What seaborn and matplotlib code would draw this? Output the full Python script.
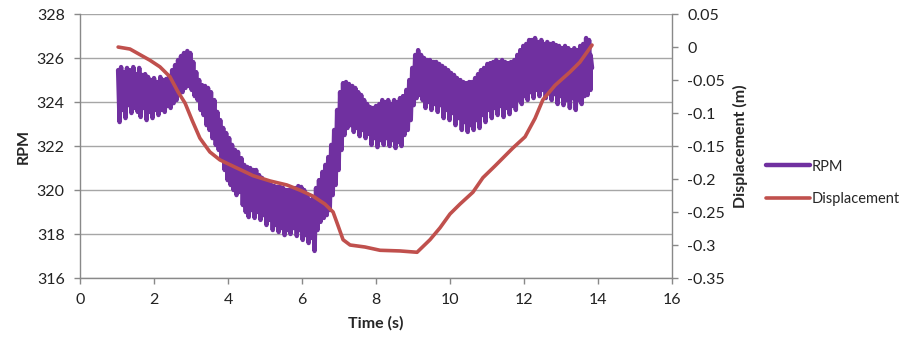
import numpy as np
import pandas as pd
import matplotlib
matplotlib.use("Agg")
import matplotlib.pyplot as plt
import seaborn as sns

# RPM trace: sample times with the upper and lower swing
rpm_time = [
    1.03, 1.11, 1.19, 1.27, 1.35, 1.44, 1.52, 1.60, 1.68, 1.76, 1.84, 1.92, 2.00, 2.08, 2.17, 2.25,
    2.33, 2.41, 2.49, 2.57, 2.65, 2.73, 2.81, 2.90, 2.98, 3.06, 3.14, 3.22, 3.30, 3.38, 3.46, 3.54,
    3.63, 3.71, 3.79, 3.87, 3.95, 4.03, 4.11, 4.19, 4.27, 4.36, 4.44, 4.52, 4.60, 4.68, 4.76, 4.84,
    4.92, 5.00, 5.09, 5.17, 5.25, 5.33, 5.41, 5.49, 5.57, 5.65, 5.73, 5.82, 5.90, 5.98, 6.06, 6.14,
    6.22, 6.30, 6.38, 6.46, 6.55, 6.63, 6.71, 6.79, 6.87, 6.95, 7.03, 7.11, 7.19, 7.27, 7.36, 7.44,
    7.52, 7.60, 7.68, 7.76, 7.84, 7.92, 8.00, 8.09, 8.17, 8.25, 8.33, 8.41, 8.49, 8.57, 8.65, 8.73,
    8.82, 8.90, 8.98, 9.06, 9.14, 9.22, 9.30, 9.38, 9.46, 9.55, 9.63, 9.71, 9.79, 9.87, 9.95, 10.03,
    10.11, 10.19, 10.28, 10.36, 10.44, 10.52, 10.60, 10.68, 10.76, 10.84, 10.92, 11.01, 11.09, 11.17,
    11.25, 11.33, 11.41, 11.49, 11.57, 11.65, 11.74, 11.82, 11.90, 11.98, 12.06, 12.14, 12.22, 12.30,
    12.38, 12.47, 12.55, 12.63, 12.71, 12.79, 12.87, 12.95, 13.03, 13.11, 13.20, 13.28, 13.36, 13.44,
    13.52, 13.60, 13.68, 13.76, 13.80,
]
rpm_high = [
    325.45, 325.59, 325.36, 325.55, 325.45, 325.59, 325.27, 325.55, 325.23, 325.27, 325.14, 325.00,
    325.09, 324.91, 325.14, 325.00, 325.05, 325.18, 325.45, 325.68, 325.91, 326.09, 326.23, 326.32,
    326.23, 325.82, 325.36, 325.00, 324.77, 324.73, 324.64, 324.45, 324.09, 323.55, 323.18, 322.82,
    322.59, 322.36, 322.05, 321.82, 321.73, 321.45, 321.14, 321.05, 321.00, 320.91, 320.91, 320.68,
    320.55, 320.36, 320.32, 320.23, 320.18, 320.14, 320.14, 320.09, 320.00, 320.00, 320.00, 320.09,
    320.18, 320.14, 320.00, 319.77, 319.55, 319.64, 320.09, 320.45, 320.82, 321.14, 321.50, 322.05,
    322.73, 323.64, 324.45, 324.86, 324.91, 324.82, 324.73, 324.64, 324.45, 324.32, 324.09, 323.91,
    323.77, 323.73, 323.82, 323.91, 324.09, 324.00, 324.09, 323.91, 324.09, 324.00, 324.18, 324.27,
    324.55, 325.00, 325.55, 326.14, 326.36, 326.14, 326.00, 325.91, 325.91, 325.82, 325.82, 325.73,
    325.64, 325.55, 325.45, 325.32, 325.23, 325.09, 325.00, 324.91, 324.86, 324.91, 324.91, 325.09,
    325.27, 325.45, 325.55, 325.73, 325.77, 325.82, 325.91, 325.82, 325.91, 325.82, 325.77, 325.82,
    325.91, 326.14, 326.36, 326.55, 326.64, 326.82, 326.82, 326.91, 326.73, 326.82, 326.64, 326.73,
    326.64, 326.68, 326.59, 326.55, 326.45, 326.55, 326.45, 326.36, 326.45, 326.36, 326.55, 326.64,
    326.91, 326.82, 326.14,
]
rpm_low = [
    323.09, 323.64, 323.27, 323.86, 323.50, 323.73, 323.55, 323.32, 323.73, 323.18, 323.55, 323.27,
    323.64, 323.41, 323.64, 323.55, 323.82, 323.73, 323.95, 324.09, 324.41, 324.45, 324.64, 324.73,
    324.55, 324.27, 324.09, 323.64, 323.41, 322.95, 322.73, 322.36, 322.05, 321.82, 321.45, 320.91,
    320.45, 320.23, 320.00, 319.77, 319.91, 319.32, 319.00, 318.77, 319.09, 318.73, 319.00, 318.64,
    318.86, 318.41, 318.64, 318.18, 318.41, 318.09, 318.27, 317.95, 318.18, 318.00, 318.27, 317.91,
    318.18, 317.73, 317.95, 317.59, 317.82, 317.23, 318.18, 318.55, 318.73, 318.86, 319.09, 319.77,
    320.23, 320.91, 321.82, 322.50, 322.82, 322.95, 322.64, 322.82, 322.45, 322.73, 322.36, 322.55,
    322.05, 322.36, 321.95, 322.27, 322.05, 322.36, 322.00, 322.27, 321.91, 322.18, 322.00, 322.50,
    322.73, 323.18, 323.86, 324.18, 324.32, 324.09, 323.73, 324.00, 323.64, 323.91, 323.55, 323.86,
    323.27, 323.64, 323.18, 323.50, 322.95, 323.27, 322.73, 323.09, 322.64, 322.95, 322.73, 323.18,
    322.82, 323.41, 323.09, 323.64, 323.27, 323.73, 323.41, 323.82, 323.32, 323.73, 323.45, 323.82,
    323.64, 324.09, 323.91, 324.27, 324.09, 324.45, 324.18, 324.55, 324.27, 324.55, 324.18, 324.45,
    324.09, 324.36, 323.91, 324.27, 323.86, 324.09, 323.73, 324.18, 323.64, 324.09, 323.91, 324.27,
    324.32, 324.55, 325.55,
]

disp_time = [
    1.03, 1.35, 1.89, 2.16, 2.43, 2.65, 2.84, 3.03, 3.24, 3.51, 3.78, 4.19, 4.68, 5.14, 5.59, 5.95,
    6.30, 6.62, 6.84, 6.97, 7.11, 7.30, 7.70, 8.11, 8.65, 9.11, 9.46, 9.73, 10.00, 10.27, 10.62,
    10.89, 11.22, 11.70, 12.03, 12.30, 12.51, 12.84, 13.24, 13.51, 13.84,
]
disp_value = [
    0.000, -0.003, -0.020, -0.030, -0.045, -0.068, -0.085, -0.111, -0.138, -0.159, -0.171, -0.182,
    -0.195, -0.203, -0.209, -0.217, -0.226, -0.238, -0.250, -0.270, -0.292, -0.300, -0.303, -0.308,
    -0.309, -0.311, -0.292, -0.274, -0.253, -0.238, -0.220, -0.198, -0.180, -0.153, -0.136, -0.108,
    -0.080, -0.058, -0.038, -0.023, 0.003,
]

# alternate upper and lower swings to rebuild the noisy trace
t_hi = np.array(rpm_time)
t_lo = t_hi + 0.04
rpm_df = pd.DataFrame({
    "t": np.column_stack([t_hi, t_lo]).ravel(),
    "rpm": np.column_stack([rpm_high, rpm_low]).ravel(),
})
disp_df = pd.DataFrame({"t": disp_time, "disp": disp_value})

sns.set_style("white")
plt.rcParams["font.family"] = ["Lato", "DejaVu Sans"]

purple = "#7030A0"
red = "#C0504D"
axis_gray = "#898989"

fig, ax = plt.subplots(figsize=(9.23, 3.43), dpi=100)
fig.subplots_adjust(left=0.0867, right=0.728, top=0.959, bottom=0.1895)

sns.lineplot(data=rpm_df, x="t", y="rpm", ax=ax, color=purple, linewidth=3.2,
             estimator=None, sort=False, label="RPM", legend=False)
ax.set_xlim(0, 16)
ax.set_ylim(316, 328)
ax.set_xticks(range(0, 17, 2))
ax.set_yticks(range(316, 329, 2))
ax.yaxis.grid(True, color="#A6A6A6", linewidth=1)
ax.set_axisbelow(True)

ax2 = ax.twinx()
sns.lineplot(data=disp_df, x="t", y="disp", ax=ax2, color=red, linewidth=2.6,
             estimator=None, sort=False, label="Displacement", legend=False)
ax2.set_ylim(-0.35, 0.05)
ax2.set_yticks(np.round(np.arange(-0.35, 0.051, 0.05), 2))
ax2.set_yticklabels(["-0.35", "-0.3", "-0.25", "-0.2", "-0.15", "-0.1", "-0.05", "0", "0.05"])

for a in (ax, ax2):
    a.spines["top"].set_visible(False)
    for side in ("left", "right", "bottom"):
        a.spines[side].set_color(axis_gray)
        a.spines[side].set_linewidth(1)
ax.spines["right"].set_visible(False)
ax2.spines["left"].set_visible(False)
ax2.spines["bottom"].set_visible(False)

ax.tick_params(axis="both", direction="out", length=4, width=1, color=axis_gray,
               labelsize=11.5, labelcolor="#222222", pad=7)
ax.tick_params(axis="y", left=True)
ax.tick_params(axis="x", bottom=True)
ax2.tick_params(axis="y", direction="out", length=4, width=1, color=axis_gray,
                labelsize=11.5, labelcolor="#222222", pad=7, right=True)

ax.set_xlabel("Time (s)", fontsize=11.5, fontweight="bold", labelpad=6)
ax.set_ylabel("RPM", fontsize=11.5, fontweight="bold", labelpad=4)
ax2.set_ylabel("Displacement (m)", fontsize=11.5, fontweight="bold", labelpad=6)

handles = ax.get_lines()[:1] + ax2.get_lines()[:1]
fig.legend(handles, ["RPM", "Displacement"], loc="center left",
           bbox_to_anchor=(762 / 923, 1 - 183 / 343), frameon=False,
           fontsize=10.5, handlelength=3.0, handletextpad=0.1, labelspacing=1.3,
           borderaxespad=0, borderpad=0.3)

fig.savefig("out.png", dpi=100)
